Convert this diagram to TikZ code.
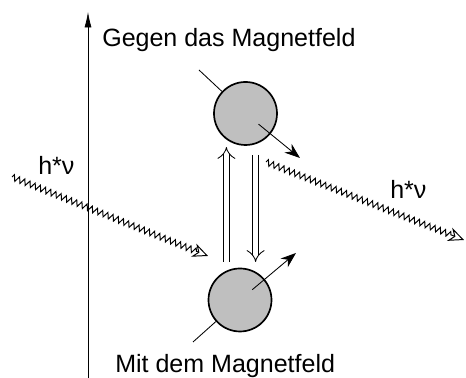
\documentclass[tikz,border=0pt]{standalone}
\usepackage{fontspec}
\setmainfont{Liberation Sans}
\usetikzlibrary{arrows.meta,decorations.pathmorphing,calc}

\begin{document}
\begin{tikzpicture}[
  font=\fontsize{17.8}{20}\selectfont, >=Stealth,
  lbl/.style={anchor=base west, inner sep=0pt},
  spinball/.style={draw, circle, fill=gray!50, line width=1.2pt,
                   minimum size=1.575cm, inner sep=0pt},
  spinarrow/.style={line width=0.6pt, -{Stealth[length=11pt,width=8pt]}},
  flip/.style={double, double distance=4pt, line width=0.6pt,
               -{Implies[length=9pt,width=12pt]}},
  photon/.style={line width=0.7pt, -{Stealth[open,length=11pt,width=10pt]},
                 decorate, decoration={zigzag, amplitude=0.075cm,
                 segment length=0.14cm, post length=0.3cm}},
]
\useasboundingbox (0,0) rectangle (11.65,9.45);

% axis
\coordinate (ax0) at (2.2,0);
\coordinate (ax1) at (2.2,9.15);
\draw[line width=0.5pt, -{Latex[length=11pt,width=5pt]}] (ax0) -- (ax1);

% labels
\node[lbl] (gegen) at (2.55,8.29) {Gegen das Magnetfeld};
\node[lbl] (mit)   at (2.875,0.125) {Mit dem Magnetfeld};
\node[lbl] (hnu1)  at (0.95,5.075) {h*ν};
\node[lbl] (hnu2)  at (9.75,4.475) {h*ν};

% spins
\coordinate (ts) at (4.975,7.7);
\coordinate (tt) at (7.5,5.5);
\coordinate (bs) at (4.825,0.9);
\coordinate (bt) at (7.4,3.125);
\node[spinball] (top) at (6.1375,6.6125) {};
\node[spinball] (bot) at (6.0,1.95) {};
\draw[line width=0.6pt] (ts) -- (top);
\draw[spinarrow, shorten <=0.42cm] (top.center) -- (tt);
\draw[line width=0.6pt] (bs) -- (bot);
\draw[spinarrow, shorten <=0.4cm] (bot.center) -- (bt);

% transitions
\coordinate (up0) at (5.66,2.9);
\coordinate (up1) at (5.66,5.775);
\coordinate (dn0) at (6.39,5.575);
\coordinate (dn1) at (6.39,2.9);
\draw[flip] (up0) -- (up1);
\draw[flip] (dn0) -- (dn1);

% photons
\coordinate (p1a) at (0.3,5.025);
\coordinate (p1b) at (5.2,3.05);
\coordinate (p2a) at (6.65,5.4);
\coordinate (p2b) at (11.6,3.45);
\draw[photon] (p1a) -- (p1b);
\draw[photon] (p2a) -- (p2b);
\end{tikzpicture}
\end{document}
